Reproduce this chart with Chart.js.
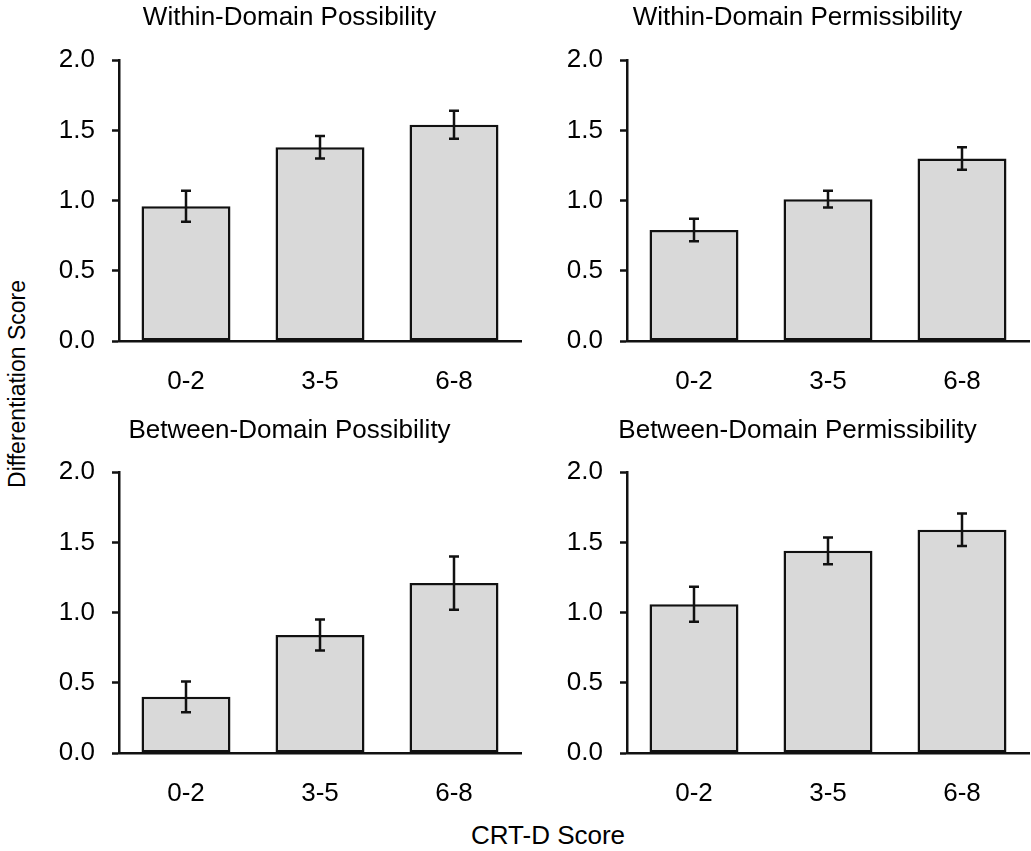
<!DOCTYPE html>
<html>
<head>
<meta charset="utf-8">
<script src="https://cdn.jsdelivr.net/npm/chart.js@4.4.1/dist/chart.umd.min.js"></script>
<style>
  body { margin: 0; background: #fff; overflow: hidden; width: 1031px; height: 851px; position: relative; }
  .panel { position: absolute; }
  .axis-title { position: absolute; font-family: "Liberation Sans", Arial, sans-serif; color: #000; white-space: nowrap; }
  #yTitle { font-size: 23px; left: 17px; top: 384px; transform: translate(-50%, -50%) rotate(-90deg); }
  #xTitle { font-size: 26px; left: 548px; top: 835px; transform: translate(-50%, -50%); }
</style>
</head>
<body>
<div class="panel" style="left:58px;top:0px;width:472px;height:391px"><canvas id="chartWP"></canvas></div>
<div class="panel" style="left:566px;top:0px;width:472px;height:391px"><canvas id="chartWM"></canvas></div>
<div class="panel" style="left:58px;top:413px;width:472px;height:390px"><canvas id="chartBP"></canvas></div>
<div class="panel" style="left:566px;top:413px;width:472px;height:390px"><canvas id="chartBM"></canvas></div>
<div class="axis-title" id="yTitle">Differentiation Score</div>
<div class="axis-title" id="xTitle">CRT-D Score</div>

<script>
// Datos
const categories = ["0-2", "3-5", "6-8"];
const yTicks = [0, 0.5, 1, 1.5, 2];

const withinPossMeans = [0.96, 1.38, 1.54];
const withinPossErrors = [0.11, 0.08, 0.10];

const withinPermMeans = [0.79, 1.01, 1.30];
const withinPermErrors = [0.08, 0.06, 0.08];

const betweenPossMeans = [0.40, 0.84, 1.21];
const betweenPossErrors = [0.11, 0.11, 0.19];

const betweenPermMeans = [1.06, 1.44, 1.59];
const betweenPermErrors = [0.125, 0.095, 0.115];

const FONT = "'Liberation Sans', Arial, sans-serif";
const TEXT = "#000";
const LINE = "#111";

// Plugin para dibujar las barras de error
const errorBars = {
  id: "errorBars",
  afterDatasetsDraw(chart) {
    const ctx = chart.ctx;
    const yScale = chart.scales.y;
    chart.data.datasets.forEach((ds, di) => {
      const meta = chart.getDatasetMeta(di);
      meta.data.forEach((bar, i) => {
        const err = ds.errors[i];
        const yTop = yScale.getPixelForValue(ds.data[i] + err);
        const yBot = yScale.getPixelForValue(ds.data[i] - err);
        const x = bar.x;
        ctx.save();
        ctx.strokeStyle = LINE;
        ctx.lineWidth = 2.5;
        ctx.beginPath();
        ctx.moveTo(x, yTop);
        ctx.lineTo(x, yBot);
        ctx.moveTo(x - 5, yTop);
        ctx.lineTo(x + 5, yTop);
        ctx.moveTo(x - 5, yBot);
        ctx.lineTo(x + 5, yBot);
        ctx.stroke();
        ctx.restore();
      });
    });
  },
};

function makePanel(canvasId, title, means, errors, titlePadBottom) {
  const ctx = document.getElementById(canvasId).getContext("2d");
  return new Chart(ctx, {
    type: "bar",
    data: {
      labels: categories,
      datasets: [
        {
          data: means,
          errors: errors,
          backgroundColor: "#d9d9d9",
          borderColor: LINE,
          borderWidth: 2.5,
          borderSkipped: false,
          categoryPercentage: 1,
          barPercentage: 0.664,
        },
      ],
    },
    options: {
      responsive: true,
      maintainAspectRatio: false,
      animation: false,
      layout: { padding: { left: 0, right: 9, top: 0, bottom: 0 } },
      plugins: {
        legend: { display: false },
        tooltip: { enabled: false },
        title: {
          display: true,
          text: title,
          color: TEXT,
          font: { family: FONT, size: 26, weight: "normal" },
          padding: { top: 2, bottom: titlePadBottom },
        },
      },
      scales: {
        x: {
          grid: { display: false },
          border: { display: true, color: LINE, width: 2.5 },
          ticks: { color: TEXT, font: { family: FONT, size: 26 }, padding: 17 },
          afterFit: (s) => { s.height = 50; },
        },
        y: {
          min: 0,
          max: 2,
          afterBuildTicks: (s) => { s.ticks = yTicks.map((v) => ({ value: v })); },
          grid: { display: true, drawOnChartArea: false, drawTicks: true, tickLength: 7, tickWidth: 2.5, tickColor: LINE },
          border: { display: true, color: LINE, width: 2.5 },
          ticks: {
            color: TEXT,
            font: { family: FONT, size: 26 },
            padding: 17,
            callback: (v) => Number(v).toFixed(1),
          },
          afterFit: (s) => { s.width = 61; },
        },
      },
    },
    plugins: [errorBars],
  });
}

makePanel("chartWP", "Within-Domain Possibility", withinPossMeans, withinPossErrors, 27);
makePanel("chartWM", "Within-Domain Permissibility", withinPermMeans, withinPermErrors, 27);
makePanel("chartBP", "Between-Domain Possibility", betweenPossMeans, betweenPossErrors, 26);
makePanel("chartBM", "Between-Domain Permissibility", betweenPermMeans, betweenPermErrors, 26);
</script>
</body>
</html>
